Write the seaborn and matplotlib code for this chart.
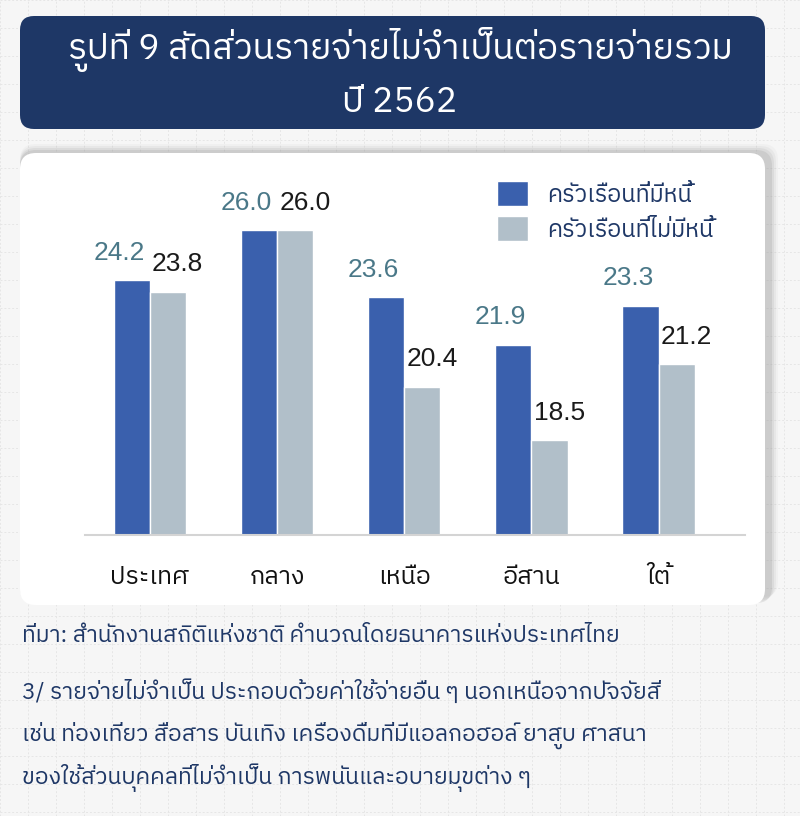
import numpy as np
import pandas as pd
import seaborn as sns
import matplotlib.pyplot as plt
from matplotlib import font_manager
from matplotlib.ft2font import FT2Font
from matplotlib.patches import FancyBboxPatch

# data
regions = ["ประเทศ", "กลาง", "เหนือ", "อีสาน", "ใต้"]
with_debt = [24.2, 26.0, 23.6, 21.9, 23.3]
without_debt = [23.8, 26.0, 20.4, 18.5, 21.2]
series_names = ["ครัวเรือนที่มีหนี้", "ครัวเรือนที่ไม่มีหนี้"]

title_lines = ["รูปที่ 9 สัดส่วนรายจ่ายไม่จำเป็นต่อรายจ่ายรวม", "ปี 2562"]
source_note = "ที่มา: สำนักงานสถิติแห่งชาติ คำนวณโดยธนาคารแห่งประเทศไทย"
footnote = ["3/ รายจ่ายไม่จำเป็น ประกอบด้วยค่าใช้จ่ายอื่น ๆ นอกเหนือจากปัจจัยสี่",
            "เช่น ท่องเที่ยว สื่อสาร บันเทิง เครื่องดื่มที่มีแอลกอฮอล์ ยาสูบ ศาสนา",
            "ของใช้ส่วนบุคคลที่ไม่จำเป็น การพนันและอบายมุขต่าง ๆ"]

# find a font that has Thai glyphs
thai_fonts = []
for f in font_manager.fontManager.ttflist:
    try:
        if ord("ก") in FT2Font(f.fname).get_charmap():
            thai_fonts.append(f.name)
    except Exception:
        pass
thai_fonts = sorted(set(thai_fonts), key=lambda n: (("Sans" not in n), ("Looped" in n), n))
thai = thai_fonts[0] if thai_fonts else "DejaVu Sans"

sns.set_theme(style="white")
plt.rcParams["font.family"] = [thai, "DejaVu Sans"]

navy = "#1e3766"
dark_blue = "#3a60ad"
light_gray = "#b1bfc9"

df = pd.DataFrame({
    "region": regions * 2,
    "value": with_debt + without_debt,
    "group": [series_names[0]] * len(regions) + [series_names[1]] * len(regions),
})

fig = plt.figure(figsize=(8, 8.16), dpi=100)
fig.patch.set_facecolor("#f6f6f6")

# faint background grid
bg = fig.add_axes([0, 0, 1, 1], zorder=-10)
bg.set_xlim(0, 800)
bg.set_ylim(816, 0)
bg.set_facecolor("#f6f6f6")
bg.set_xticks(np.arange(0, 801, 28))
bg.set_yticks(np.arange(0, 817, 28))
bg.grid(True, color="#e6e6e6", lw=0.7, ls=(0, (2, 2)))
bg.tick_params(length=0, labelbottom=False, labelleft=False)
for s in bg.spines.values():
    s.set_visible(False)

# title box
bg.add_patch(FancyBboxPatch((20, 16), 745, 113, boxstyle="round,pad=0,rounding_size=14",
                            fc=navy, ec="none"))
bg.text(400, 49, title_lines[0], color="white", fontsize=25.5, ha="center", va="center")
bg.text(400, 102, title_lines[1], color="white", fontsize=25.5, ha="center", va="center")

# white panel with soft shadow
for i, a in enumerate([0.05, 0.08, 0.12, 0.18]):
    off = 8 - 2 * i
    bg.add_patch(FancyBboxPatch((20, 152 - off), 750 + off, 453, boxstyle="round,pad=0,rounding_size=16",
                                fc="#888888", ec="none", alpha=a))
bg.add_patch(FancyBboxPatch((20, 153), 745, 452, boxstyle="round,pad=0,rounding_size=16",
                            fc="white", ec="none"))

# notes
bg.text(22, 636, source_note, color=navy, fontsize=16.5, ha="left", va="center")
for i, line in enumerate(footnote):
    bg.text(22, 692 + i * 43, line, color=navy, fontsize=16.5, ha="left", va="center")

# bar chart
ax = fig.add_axes([85 / 800, 1 - 535 / 816, 660 / 800, 375 / 816])
sns.barplot(data=df, x="region", y="value", hue="group", order=regions,
            hue_order=series_names, palette=[dark_blue, light_gray],
            width=0.57, saturation=1, ax=ax)
ax.set_facecolor("none")
ax.set_ylim(15.1, 28.5)
ax.set_xlim(-0.51, 4.68)
ax.set_xlabel("")
ax.set_ylabel("")
ax.set_yticks([])
for s in ["top", "right", "left"]:
    ax.spines[s].set_visible(False)
ax.spines["bottom"].set_color("#d4d4d4")
ax.spines["bottom"].set_linewidth(1.5)
ax.tick_params(axis="x", length=0, pad=22, labelsize=18, labelcolor="#111111")

label_colors = ["#4a7888", "#1a1a1a"]
for cont, col, dx in zip(ax.containers, label_colors, [-9, 7]):
    for bar in cont:
        h = bar.get_height()
        ax.annotate(f"{h:.1f}", (bar.get_x() + bar.get_width() / 2, h),
                    xytext=(dx, 11), textcoords="offset points", ha="center", va="bottom",
                    fontsize=19, color=col, family=["Liberation Sans", "DejaVu Sans"])

handles, labels = ax.get_legend_handles_labels()
ax.legend(handles, labels, loc="upper left", bbox_to_anchor=(476 / 800, 1 - 160 / 816),
          bbox_transform=fig.transFigure, frameon=False, fontsize=17, labelcolor=navy,
          handlelength=1.3, handleheight=1.25, handletextpad=0.8, labelspacing=0.4)

fig.savefig("out.png", dpi=100)
